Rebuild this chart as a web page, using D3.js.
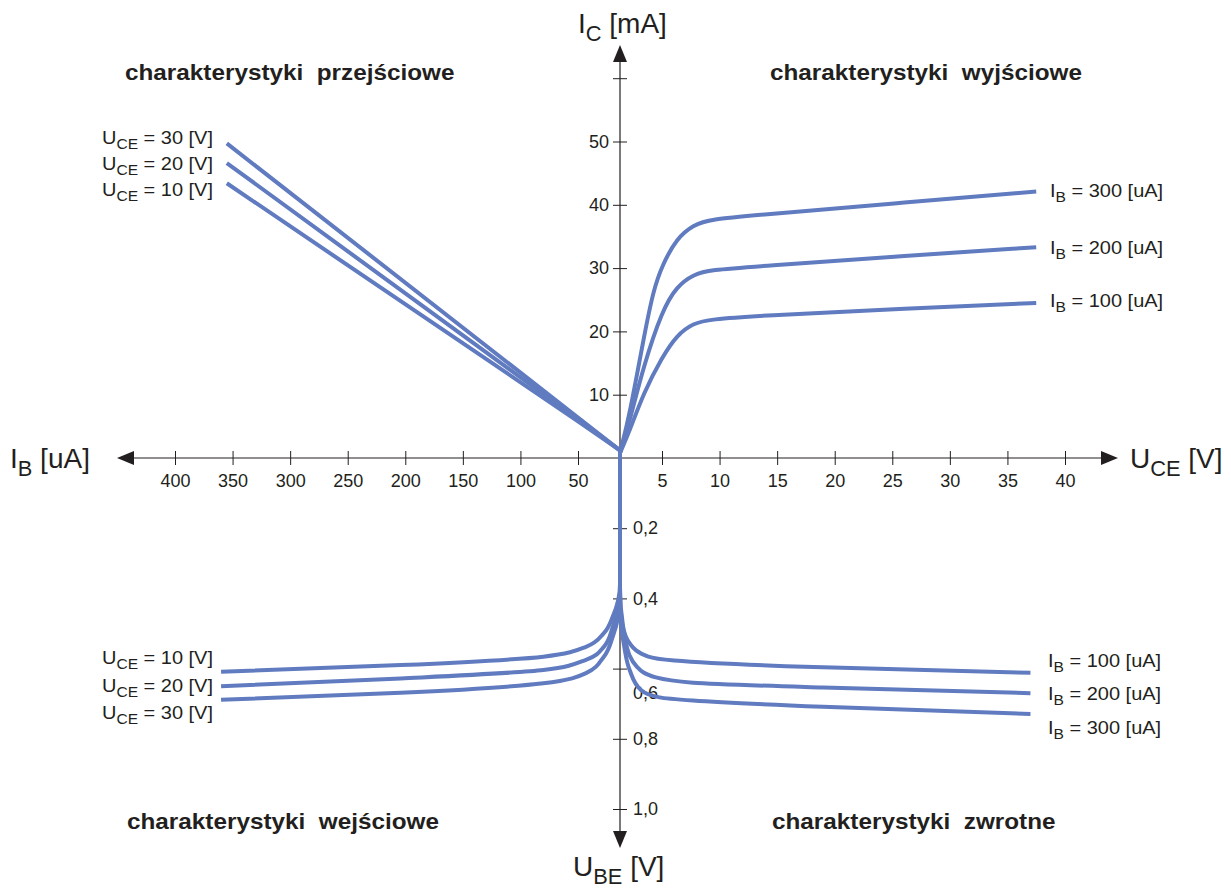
<!DOCTYPE html>
<html>
<head>
<meta charset="utf-8">
<script src="https://cdn.jsdelivr.net/npm/d3@7/dist/d3.min.js"></script>
<style>
  body { margin: 0; background: #fff; }
  text { font-family: "Liberation Sans", Arial, sans-serif; fill: #231f20; }
</style>
</head>
<body>
<div id="chart"></div>
<script>
// tick values
const uceTicks = [5, 10, 15, 20, 25, 30, 35, 40];
const ibTicks = [50, 100, 150, 200, 250, 300, 350, 400];
const icTicks = [10, 20, 30, 40, 50, 60];
const ubeTicks = [0.2, 0.4, 0.6, 0.8, 1.0];

// output characteristics: [UCE V, IC mA]
const outIb300 = [[0, 0.8], [1.19, 7.1], [2.77, 18.6], [3.96, 26.5], [5.03, 30.5], [6.28, 34.7], [7.72, 36.8], [9.17, 37.7], [13.5, 38.4], [25.0, 40.2], [37.5, 42.1]];
const outIb200 = [[0, 0.8], [1.19, 6.0], [2.77, 14.4], [5.03, 23.4], [6.28, 27.1], [7.72, 29.0], [9.17, 29.7], [13.5, 30.3], [25.0, 31.8], [37.5, 33.3]];
const outIb100 = [[0, 0.8], [1.19, 4.4], [2.77, 10.2], [5.03, 16.0], [6.28, 19.4], [7.72, 21.3], [9.17, 21.9], [13.5, 22.5], [25.0, 23.5], [37.5, 24.5]];

// transfer characteristics: [IB uA, IC mA]
const trUce30 = [[0, 1.2], [50, 6.4], [355, 49.7]];
const trUce20 = [[0, 1.2], [50, 6.1], [355, 46.6]];
const trUce10 = [[0, 1.2], [50, 5.8], [355, 43.4]];

// input characteristics: [IB uA, UBE V]
const inUce10 = [[0, -0.02], [0, 0.36], [8.6, 0.452], [19.2, 0.499], [40.5, 0.538], [80.1, 0.566], [203.9, 0.590], [360, 0.609]];
const inUce20 = [[0, -0.02], [0, 0.38], [8.6, 0.481], [19.2, 0.538], [40.5, 0.575], [80.1, 0.604], [203.9, 0.628], [360, 0.650]];
const inUce30 = [[0, -0.02], [0, 0.40], [8.6, 0.509], [19.2, 0.566], [40.5, 0.613], [80.1, 0.642], [203.9, 0.669], [360, 0.689]];

// reverse characteristics: [UCE V, UBE V]
const revIb100 = [[0, -0.02], [0, 0.37], [0.36, 0.479], [1.15, 0.528], [3.37, 0.566], [6.07, 0.577], [15.75, 0.593], [37.0, 0.612]];
const revIb200 = [[0, -0.02], [0, 0.39], [0.71, 0.528], [2.02, 0.595], [4.26, 0.625], [7.69, 0.640], [18.98, 0.654], [37.0, 0.670]];
const revIb300 = [[0, -0.02], [0, 0.41], [0.5, 0.537], [1.15, 0.604], [2.49, 0.661], [4.70, 0.682], [7.69, 0.691], [18.98, 0.709], [37.0, 0.729]];

const width = 1231, height = 888;
const blue = '#607bbf';
const ink = '#231f20';

const svg = d3.select('#chart').append('svg')
  .attr('width', width)
  .attr('height', height);

// scales (first interval of each horizontal axis is drawn shorter)
const xR = d3.scaleLinear().domain([0, 5, 40]).range([620, 662, 1065]);
const xL = d3.scaleLinear().domain([0, 50, 400]).range([620, 578, 175]);
const yT = d3.scaleLinear().domain([0, 50]).range([458, 141.5]);
const yB = d3.scaleLinear().domain([0, 1]).range([458, 809]);

// axis lines with arrows
const axes = svg.append('g').attr('stroke', ink).attr('stroke-width', 1.2);
axes.append('line').attr('x1', 130).attr('x2', 1105).attr('y1', 458).attr('y2', 458);
axes.append('line').attr('x1', 620).attr('x2', 620).attr('y1', 58).attr('y2', 835);
const arrows = svg.append('g').attr('fill', ink);
arrows.append('path').attr('d', 'M1118,458 L1101,451 L1101,465 Z');
arrows.append('path').attr('d', 'M117,458 L134,451 L134,465 Z');
arrows.append('path').attr('d', 'M620,45 L613,62 L627,62 Z');
arrows.append('path').attr('d', 'M620,848 L613,831 L627,831 Z');

const tickFont = 18;
const styleTicks = g => g.selectAll('.tick text')
  .attr('font-size', tickFont).attr('font-family', null).attr('fill', null);

svg.append('g')
  .attr('transform', 'translate(0,458)')
  .call(d3.axisBottom(xR).tickValues(uceTicks).tickSize(7).tickPadding(9))
  .call(g => g.select('.domain').remove())
  .call(g => g.selectAll('.tick line').attr('y1', -7).attr('stroke', ink))
  .call(styleTicks);

svg.append('g')
  .attr('transform', 'translate(0,458)')
  .call(d3.axisBottom(xL).tickValues(ibTicks).tickSize(7).tickPadding(9))
  .call(g => g.select('.domain').remove())
  .call(g => g.selectAll('.tick line').attr('y1', -7).attr('stroke', ink))
  .call(styleTicks);

svg.append('g')
  .attr('transform', 'translate(620,0)')
  .call(d3.axisLeft(yT).tickValues(icTicks).tickSize(7).tickPadding(4)
    .tickFormat(d => d === 60 ? '' : d))
  .call(g => g.select('.domain').remove())
  .call(g => g.selectAll('.tick line').attr('x1', 7).attr('stroke', ink))
  .call(styleTicks);

svg.append('g')
  .attr('transform', 'translate(620,0)')
  .call(d3.axisRight(yB).tickValues(ubeTicks).tickSize(7).tickPadding(6)
    .tickFormat(d => d3.format('.1f')(d).replace('.', ',')))
  .call(g => g.select('.domain').remove())
  .call(g => g.selectAll('.tick line').attr('x1', -7).attr('stroke', ink))
  .call(styleTicks)
  .call(g => g.selectAll('.tick text').attr('dy', d => d === 0.6 ? '1.65em' : '0.32em'));

// curves
const quadrants = [
  { series: [outIb300, outIb200, outIb100], x: xR, y: yT, curve: d3.curveBasis },
  { series: [trUce30, trUce20, trUce10], x: xL, y: yT, curve: d3.curveLinear },
  { series: [inUce10, inUce20, inUce30], x: xL, y: yB, curve: d3.curveMonotoneY },
  { series: [revIb100, revIb200, revIb300], x: xR, y: yB, curve: d3.curveMonotoneY }
];

quadrants.forEach(q => {
  const line = d3.line()
    .x(d => q.x(d[0]))
    .y(d => q.y(d[1]))
    .curve(q.curve);
  svg.append('g').selectAll('path')
    .data(q.series)
    .join('path')
    .attr('d', line)
    .attr('fill', 'none')
    .attr('stroke', blue)
    .attr('stroke-width', 4);
});

// text with subscript, slightly widened like the original lettering
function subText(x, y, main, sub, rest, size, anchor, sx) {
  const t = svg.append('text')
    .attr('transform', `translate(${x},${y}) scale(${sx || 1},1)`)
    .attr('font-size', size)
    .attr('text-anchor', anchor || 'start');
  t.append('tspan').text(main);
  t.append('tspan').attr('font-size', size * 0.78).attr('dy', size * 0.27).text(sub);
  t.append('tspan').attr('dy', -size * 0.27).text(rest);
  return t;
}

// axis titles
subText(578, 33, 'I', 'C', ' [mA]', 28);
subText(10, 468, 'I', 'B', ' [uA]', 28);
subText(1130, 468, 'U', 'CE', ' [V]', 28);
subText(573, 876, 'U', 'BE', ' [V]', 28);

// series labels
const labelSize = 18.5, labelSx = 1.08;
const trLabels = ['30', '20', '10'];
const trLabelY = [144, 170, 196];
trLabels.forEach((v, i) => subText(213, trLabelY[i], 'U', 'CE', ` = ${v} [V]`, labelSize, 'end', labelSx));

const outLabels = ['300', '200', '100'];
const outLabelY = [197, 254, 307];
outLabels.forEach((v, i) => subText(1050, outLabelY[i], 'I', 'B', ` = ${v} [uA]`, labelSize, 'start', labelSx));

const inLabels = ['10', '20', '30'];
const inLabelY = [664, 692, 719];
inLabels.forEach((v, i) => subText(213, inLabelY[i], 'U', 'CE', ` = ${v} [V]`, labelSize, 'end', labelSx));

const revLabels = ['100', '200', '300'];
const revLabelY = [667, 700, 734];
revLabels.forEach((v, i) => subText(1048, revLabelY[i], 'I', 'B', ` = ${v} [uA]`, labelSize, 'start', labelSx));

// quadrant titles
const titles = [
  ['charakterystyki  przejściowe', 125, 80],
  ['charakterystyki  wyjściowe', 770, 80],
  ['charakterystyki  wejściowe', 127, 829],
  ['charakterystyki  zwrotne', 772, 829]
];
svg.append('g').selectAll('text')
  .data(titles)
  .join('text')
  .attr('transform', d => `translate(${d[1]},${d[2]}) scale(1.13,1)`)
  .attr('font-size', 21.5)
  .attr('font-weight', 'bold')
  .style('white-space', 'pre')
  .text(d => d[0]);
</script>
</body>
</html>
